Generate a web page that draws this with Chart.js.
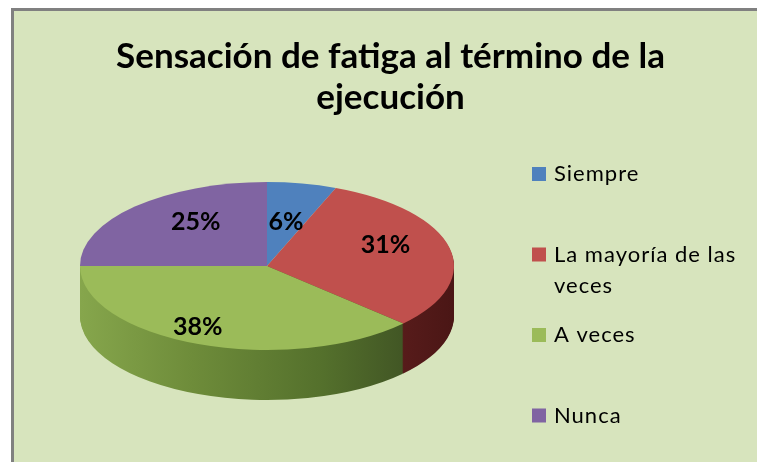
<!DOCTYPE html>
<html lang="es">
<head>
    <meta charset="UTF-8">
    <title>Sensación de fatiga al término de la ejecución</title>
    <script src="https://cdn.jsdelivr.net/npm/chart.js"></script>
    <style>
        html, body { margin: 0; padding: 0; background: #fff; }
        canvas { display: block; }
    </style>
</head>
<body>
<canvas id="fatigaChart" width="757" height="462"></canvas>

<script>
    // datos
    const categories = ['Siempre', 'La mayoría de las veces', 'A veces', 'Nunca'];
    const percentages = [6, 31, 38, 25];
    const titleLines = ['Sensación de fatiga al término de la', 'ejecución'];

    // estilos
    const topColors = ['#4f81bd', '#c0504d', '#9bbb59', '#8064a2'];
    const sideStops = [
        [[0, '#3b6296'], [1, '#2c4a72']],
        [[0, '#8a3431'], [0.75, '#62201f'], [1, '#4a1615']],
        [[0, '#86a64c'], [0.3, '#6e8c3a'], [0.65, '#54702c'], [1, '#364620']],
        [[0, '#64507f'], [1, '#4a3b5f']]
    ];
    const labelNudge = [[-2, 5], [9, -10], [-28, 14], [8, -8]];
    const pieShape = { cx: 267, cy: 266, rx: 187, ry: 84, depth: 50 };
    const fontFamily = 'Lato, "Open Sans", sans-serif';

    const framePlugin = {
        id: 'frame',
        beforeDraw(chart) {
            const ctx = chart.ctx;
            ctx.save();
            ctx.fillStyle = '#ffffff';
            ctx.fillRect(0, 0, chart.width, chart.height);
            ctx.fillStyle = '#808080';
            ctx.fillRect(11, 8, chart.width - 11, chart.height - 8);
            ctx.fillStyle = '#d7e4bd';
            ctx.fillRect(14, 11, chart.width - 14, chart.height - 11);
            ctx.restore();
        }
    };

    // tarta 3D: se aplana la tarta de Chart.js y se le pone el canto
    const pie3dPlugin = {
        id: 'pie3d',
        beforeDatasetsDraw(chart) {
            const ctx = chart.ctx;
            const arcs = chart.getDatasetMeta(0).data;
            const a0 = arcs[0];
            const R = a0.outerRadius;
            const sx = pieShape.rx / R, sy = pieShape.ry / R;
            ctx.save();
            ctx.translate(pieShape.cx, pieShape.cy);
            ctx.scale(sx, sy);
            ctx.translate(-a0.x, -a0.y);

            // solo los sectores que tocan la mitad delantera
            const front = [];
            arcs.forEach((arc, i) => {
                if (arc.endAngle > 0.0001 && arc.startAngle < Math.PI - 0.0001) {
                    const g = ctx.createLinearGradient(a0.x - R, 0, a0.x + R, 0);
                    sideStops[i].forEach(s => g.addColorStop(s[0], s[1]));
                    front.push({ arc: arc, grad: g });
                }
            });
            for (let d = pieShape.depth; d > 0; d--) {
                ctx.save();
                ctx.translate(0, d / sy);
                front.forEach(f => {
                    const o = f.arc.options;
                    f.arc.options = Object.assign({}, o, { backgroundColor: f.grad, borderWidth: 0 });
                    f.arc.draw(ctx);
                    f.arc.options = o;
                });
                ctx.restore();
            }
        },
        afterDatasetsDraw(chart) {
            const ctx = chart.ctx;
            ctx.restore();

            const arcs = chart.getDatasetMeta(0).data;
            ctx.save();
            ctx.font = 'bold 25px ' + fontFamily;
            ctx.fillStyle = '#000';
            ctx.textAlign = 'center';
            ctx.textBaseline = 'middle';
            arcs.forEach((arc, i) => {
                const mid = (arc.startAngle + arc.endAngle) / 2;
                const x = pieShape.cx + pieShape.rx * 0.6 * Math.cos(mid) + labelNudge[i][0];
                const y = pieShape.cy + pieShape.ry * 0.6 * Math.sin(mid) + labelNudge[i][1];
                ctx.fillText(percentages[i] + '%', x, y);
            });
            ctx.restore();
        },
        afterDraw(chart) {
            // leyenda a la derecha
            const ctx = chart.ctx;
            ctx.save();
            ctx.font = '22px ' + fontFamily;
            ctx.letterSpacing = '1px';
            ctx.textBaseline = 'middle';
            categories.forEach((name, i) => {
                const y = 174 + i * 80.5;
                ctx.fillStyle = topColors[i];
                ctx.fillRect(532, y - 7, 14, 14);
                ctx.fillStyle = '#000';
                const lines = [];
                let line = '';
                name.split(' ').forEach(w => {
                    const test = line ? line + ' ' + w : w;
                    if (ctx.measureText(test).width > 200 && line) {
                        lines.push(line);
                        line = w;
                    } else {
                        line = test;
                    }
                });
                lines.push(line);
                lines.forEach((l, k) => ctx.fillText(l, 554, y + k * 31));
            });
            ctx.restore();
        }
    };

    const ctx = document.getElementById('fatigaChart').getContext('2d');
    const fatigaChart = new Chart(ctx, {
        type: 'pie',
        data: {
            labels: categories,
            datasets: [{
                data: percentages,
                backgroundColor: topColors,
                borderWidth: 0,
                clip: false
            }]
        },
        options: {
            responsive: false,
            animation: false,
            devicePixelRatio: 1,
            layout: { padding: { left: 24, right: 0, top: 0, bottom: 0 } },
            plugins: {
                legend: { display: false },
                tooltip: { enabled: false },
                title: {
                    display: true,
                    text: titleLines,
                    color: '#000',
                    font: { family: fontFamily, size: 35, weight: 'bold', lineHeight: 1.15 },
                    padding: { top: 37, bottom: 10 }
                }
            }
        },
        plugins: [framePlugin, pie3dPlugin]
    });
</script>
</body>
</html>
